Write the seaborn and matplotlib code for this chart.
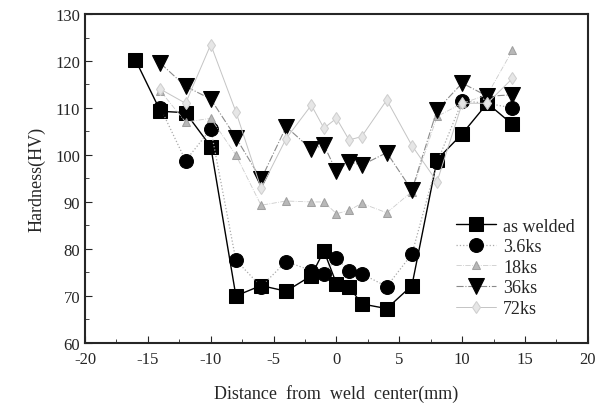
import matplotlib
matplotlib.use('Agg')
import matplotlib.pyplot as plt
import seaborn as sns
import pandas as pd
from matplotlib.ticker import MultipleLocator

# distance from weld center (mm)
x_welded = [-16, -14, -12, -10, -8, -6, -4, -2, -1, 0, 1, 2, 4, 6, 8, 10, 12, 14]
x_aged = [-14, -12, -10, -8, -6, -4, -2, -1, 0, 1, 2, 4, 6, 8, 10, 12, 14]

hv_welded = [120.3, 109.3, 109, 101.8, 70, 72.2, 71, 74.3, 79.6, 72.6, 72, 68.3, 67.3, 72.2, 99, 104.5, 111, 106.5]
hv_3_6ks = [110, 98.8, 105.5, 77.6, 72, 77.3, 75.4, 74.7, 78, 75.4, 74.7, 72, 78.9, 98.4, 111.5, 111, 110]
hv_18ks = [113.6, 107, 107.8, 100, 89.3, 90.2, 90, 90, 87.5, 88.2, 89.7, 87.7, 92.2, 108.2, 111, 112.8, 122.3]
hv_36ks = [119.5, 114.6, 111.9, 103.7, 94.8, 106, 101.2, 102.1, 96.5, 98.6, 97.8, 100.5, 92.5, 109.6, 115.3, 112.5, 112.8]
hv_72ks = [114, 111, 123.5, 109.2, 92.9, 103.5, 110.6, 105.7, 107.8, 103.2, 103.9, 111.7, 102, 94.3, 111, 111, 116.3]

labels = ['as welded', '3.6ks', '18ks', '36ks', '72ks']

df = pd.concat([
    pd.DataFrame({'x': x_welded, 'hv': hv_welded, 'cond': labels[0]}),
    pd.DataFrame({'x': x_aged, 'hv': hv_3_6ks, 'cond': labels[1]}),
    pd.DataFrame({'x': x_aged, 'hv': hv_18ks, 'cond': labels[2]}),
    pd.DataFrame({'x': x_aged, 'hv': hv_36ks, 'cond': labels[3]}),
    pd.DataFrame({'x': x_aged, 'hv': hv_72ks, 'cond': labels[4]}),
])

sns.set_style('ticks')
plt.rcParams['font.family'] = ['Liberation Serif', 'DejaVu Serif']
plt.rcParams['axes.unicode_minus'] = False

fig = plt.figure(figsize=(6.03, 4.06), dpi=100)
ax = fig.add_axes([0.141, 0.153, 0.834, 0.810])

styles = {
    'as welded': dict(color='black', marker='s', ms=10, ls='-', lw=1.0, mfc='black', mec='black'),
    '3.6ks': dict(color='#aaaaaa', marker='o', ms=10, ls=':', lw=0.9, mfc='black', mec='black'),
    '18ks': dict(color='#cccccc', marker='^', ms=6, ls='-.', lw=0.6, mfc='#b8b8b8', mec='#a0a0a0'),
    '36ks': dict(color='#8a8a8a', marker='v', ms=11, ls='-.', lw=0.8, mfc='black', mec='black'),
    '72ks': dict(color='#c4c4c4', marker='d', ms=6, ls='-', lw=0.7, mfc='#e6e6e6', mec='#cfcfcf'),
}

for lab in labels:
    sub = df[df['cond'] == lab]
    st = styles[lab]
    sns.lineplot(data=sub, x='x', y='hv', ax=ax, label=lab, color=st['color'],
                 marker=st['marker'], markersize=st['ms'], linestyle=st['ls'],
                 linewidth=st['lw'], markerfacecolor=st['mfc'],
                 markeredgecolor=st['mec'], estimator=None, sort=False)

ax.set_xlim(-20, 20)
ax.set_ylim(60, 130)
ax.xaxis.set_major_locator(MultipleLocator(5))
ax.xaxis.set_minor_locator(MultipleLocator(2.5))
ax.yaxis.set_major_locator(MultipleLocator(10))
ax.yaxis.set_minor_locator(MultipleLocator(5))
ax.tick_params(which='both', direction='in', labelsize=12, top=False, right=False)
ax.tick_params(which='major', length=5)
ax.tick_params(which='minor', length=3)
ax.tick_params(axis='x', pad=6)
for s in ax.spines.values():
    s.set_linewidth(1.5)
    s.set_visible(True)

ax.set_xlabel('Distance  from  weld  center(mm)', fontsize=13, labelpad=12)
ax.set_ylabel('Hardness(HV)', fontsize=13, labelpad=7)

ax.legend(loc='center left', bbox_to_anchor=(0.72, 0.23), frameon=False,
          fontsize=13, handlelength=2.2, labelspacing=0.2, borderpad=0,
          handletextpad=0.4)

fig.savefig('out.png', dpi=100)
